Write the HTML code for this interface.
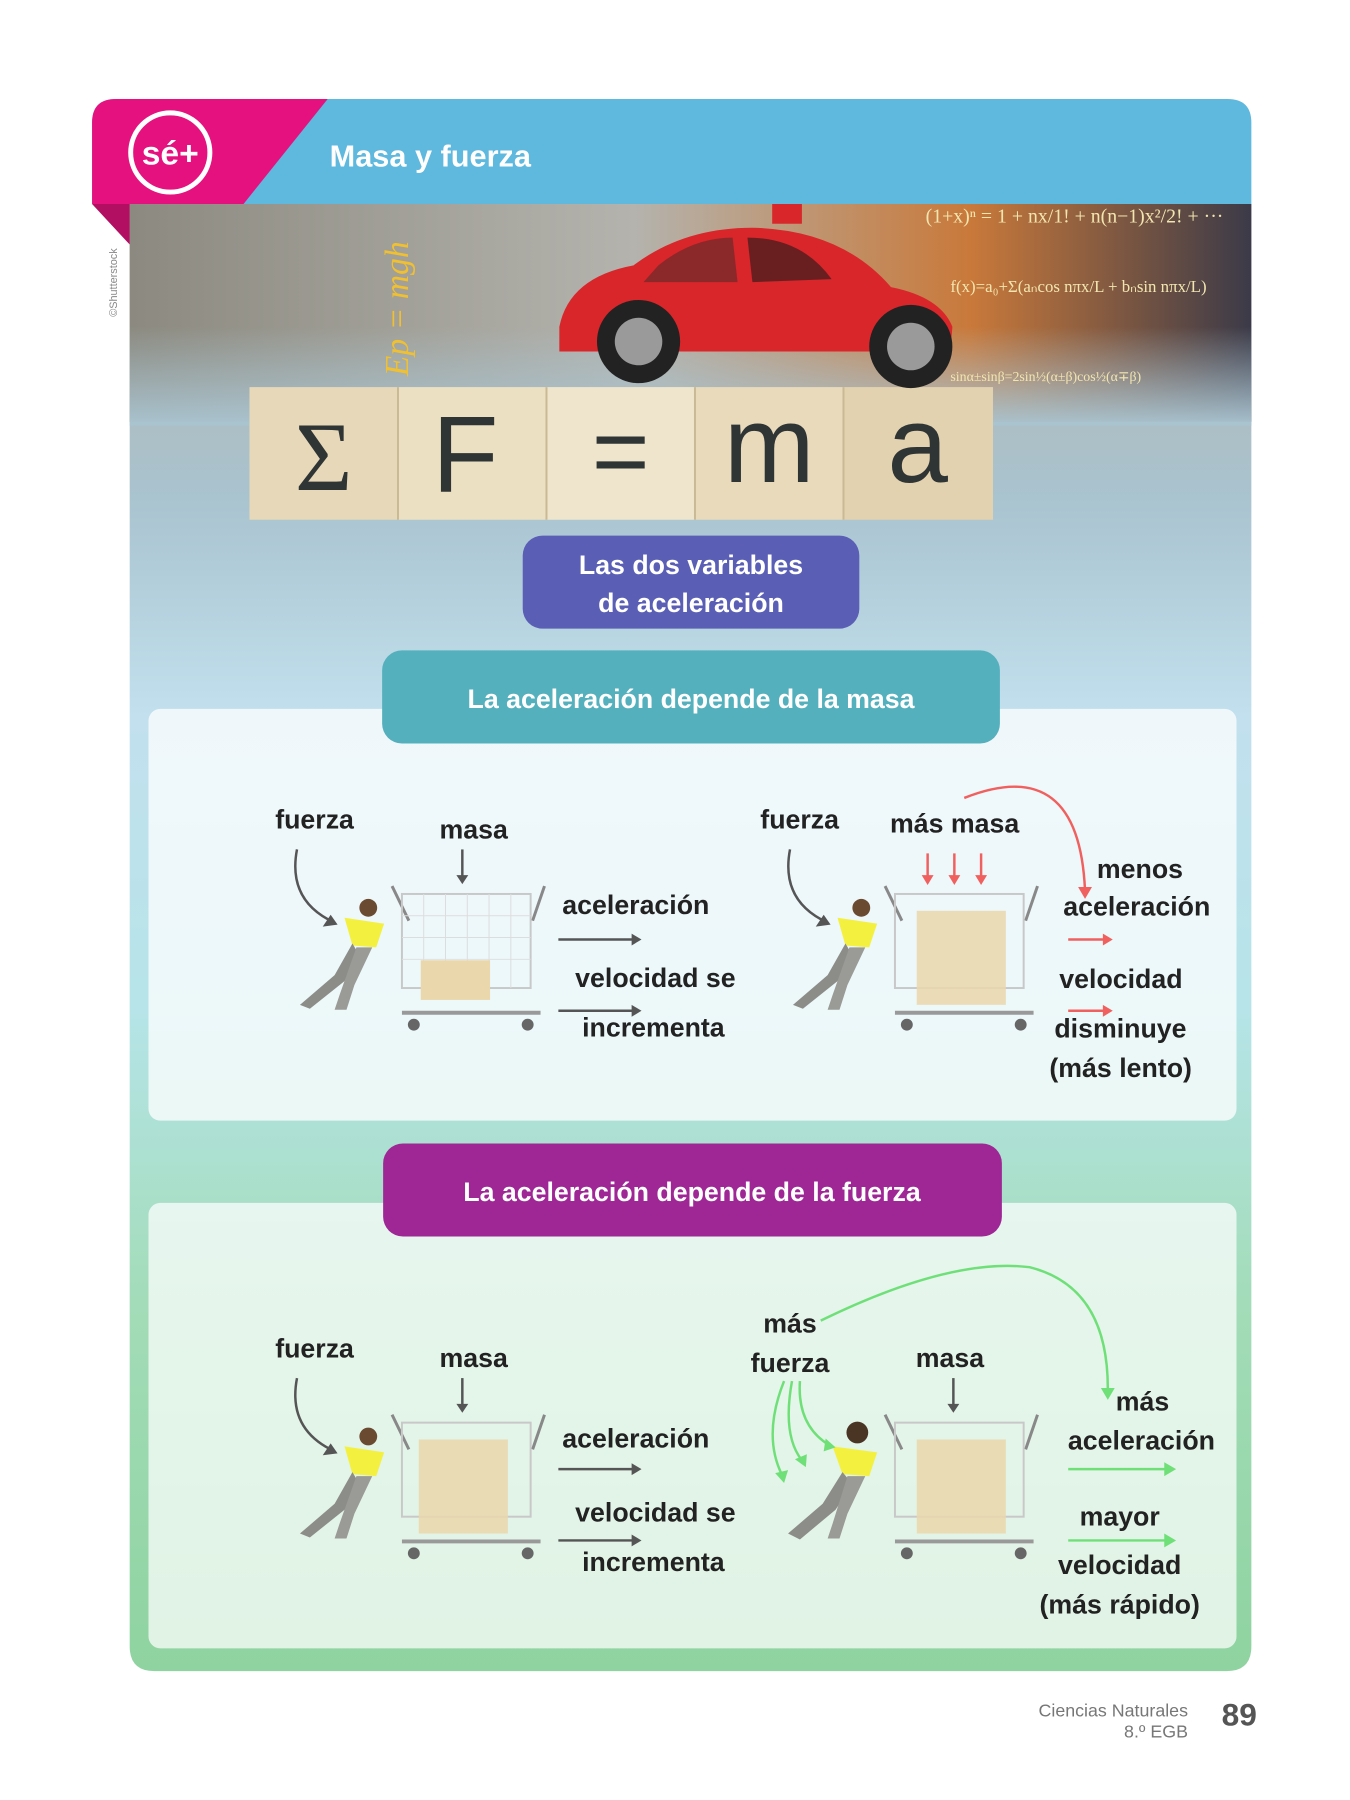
<!DOCTYPE html>
<html><head><meta charset="utf-8"><style>
html,body{margin:0;padding:0;background:#fff;}
body{width:1350px;height:1800px;position:relative;overflow:hidden;font-family:"Liberation Sans",sans-serif;}
svg{position:absolute;left:0;top:0;}
.t{font-family:"Liberation Sans",sans-serif;font-size:27px;fill:#222;font-weight:bold;}
.w{font-family:"Liberation Sans",sans-serif;fill:#fff;font-weight:bold;}
</style></head><body>
<svg width="1350" height="1800" viewBox="0 0 1350 1800" xmlns="http://www.w3.org/2000/svg">
<defs>
<linearGradient id="pan" x1="0" y1="0" x2="0" y2="1">
<stop offset="0" stop-color="#b9b2a8"/>
<stop offset="0.2" stop-color="#a9c3cf"/>
<stop offset="0.35" stop-color="#c2e0ee"/>
<stop offset="0.55" stop-color="#b6e4e8"/>
<stop offset="0.75" stop-color="#a2dcb8"/>
<stop offset="1" stop-color="#8fd3a0"/>
</linearGradient>
<linearGradient id="img" x1="0" y1="0" x2="1" y2="0">
<stop offset="0" stop-color="#8c8a80"/>
<stop offset="0.45" stop-color="#b4b3ad"/>
<stop offset="0.75" stop-color="#c9793a"/>
<stop offset="1" stop-color="#3b3a48"/>
</linearGradient>
<linearGradient id="imgv" x1="0" y1="0" x2="0" y2="1">
<stop offset="0" stop-color="#fff" stop-opacity="0"/>
<stop offset="0.55" stop-color="#fff" stop-opacity="0"/>
<stop offset="1" stop-color="#fff" stop-opacity="1"/>
</linearGradient>
<mask id="m"><rect x="0" y="206" width="1350" height="320" fill="url(#imgv)"/></mask>
<linearGradient id="fade" x1="0" y1="0" x2="0" y2="1">
<stop offset="0" stop-color="#a9c3cf" stop-opacity="0"/>
<stop offset="1" stop-color="#a9c3cf" stop-opacity="1"/>
</linearGradient>
</defs>
<g transform="scale(0.99)">
<path d="M131 206 H1264 V1663 Q1264 1688 1239 1688 H156 Q131 1688 131 1663 Z" fill="url(#pan)"/>
<rect x="131" y="206" width="1133" height="220" fill="url(#img)"/>
<rect x="131" y="330" width="1133" height="100" fill="url(#fade)"/>
<!-- equation blocks -->
<g>
<rect x="252" y="391" width="150" height="134" fill="#e6d8b8"/>
<rect x="402" y="391" width="150" height="134" fill="#ece0c2"/>
<rect x="552" y="391" width="150" height="134" fill="#efe5cc"/>
<rect x="702" y="391" width="150" height="134" fill="#e8dabb"/>
<rect x="852" y="391" width="151" height="134" fill="#e3d2b0"/>
<g stroke="#c9b994" stroke-width="2"><line x1="402" y1="391" x2="402" y2="525"/><line x1="552" y1="391" x2="552" y2="525"/><line x1="702" y1="391" x2="702" y2="525"/><line x1="852" y1="391" x2="852" y2="525"/></g>
<text x="327" y="495" font-size="100" text-anchor="middle" fill="#2f3434" font-family="Liberation Serif">Σ</text>
<text x="470" y="497" font-size="110" text-anchor="middle" fill="#2f3434">F</text>
<text x="627" y="490" font-size="100" text-anchor="middle" fill="#2f3434">=</text>
<text x="777" y="487" font-size="110" text-anchor="middle" fill="#2f3434">m</text>
<text x="927" y="487" font-size="110" text-anchor="middle" fill="#2f3434">a</text>
</g>
<!-- car -->
<g>
<path d="M565 330 Q575 280 640 268 Q690 230 760 230 Q850 232 900 290 Q950 300 962 330 L960 355 L565 355 Z" fill="#d8262a"/>
<path d="M665 268 Q700 240 740 240 L745 285 L650 285 Z" fill="#6b2a2a" opacity="0.7"/>
<path d="M755 240 Q810 240 840 282 L760 285 Z" fill="#3b1b1c" opacity="0.7"/>
<circle cx="645" cy="345" r="42" fill="#222"/><circle cx="645" cy="345" r="24" fill="#9a9a9a"/>
<circle cx="920" cy="350" r="42" fill="#222"/><circle cx="920" cy="350" r="24" fill="#9a9a9a"/>
<rect x="780" y="206" width="30" height="20" fill="#d8262a"/>
</g>
<text x="412" y="380" font-size="34" fill="#f0c030" font-style="italic" font-family="Liberation Serif" transform="rotate(-90 412 380)">Ep = mgh</text>
<text x="935" y="225" font-size="20" fill="#f2e6b0" font-family="Liberation Serif">(1+x)ⁿ = 1 + nx/1! + n(n−1)x²/2! + ···</text>
<text x="960" y="295" font-size="17" fill="#f2e6b0" font-family="Liberation Serif">f(x)=a₀+Σ(aₙcos nπx/L + bₙsin nπx/L)</text>
<text x="960" y="385" font-size="14" fill="#f2e6b0" font-family="Liberation Serif">sinα±sinβ=2sin½(α±β)cos½(α∓β)</text>
<text x="118" y="320" font-size="11" fill="#888" transform="rotate(-90 118 320)">©Shutterstock</text>
<!-- header -->
<path d="M93 206 V124 Q93 100 117 100 H1240 Q1264 100 1264 124 V206 Z" fill="#5fb8de"/>
<path d="M93 206 V124 Q93 100 117 100 H331 L246 206 Z" fill="#e5117f"/>
<path d="M93 206 H131 V247 Z" fill="#b20e62"/>
<circle cx="172" cy="154" r="40" fill="none" stroke="#fff" stroke-width="5"/>
<text x="172" y="166" text-anchor="middle" class="w" font-size="34">sé+</text>
<text x="333" y="168" class="w" font-size="31" font-weight="normal">Masa y fuerza</text>
<!-- title boxes -->
<rect x="528" y="541" width="340" height="94" rx="20" fill="#5a5fb5"/>
<text x="698" y="580" text-anchor="middle" class="w" font-size="27">Las dos variables</text>
<text x="698" y="618" text-anchor="middle" class="w" font-size="27">de aceleración</text>
<!-- inner panels -->
<rect x="150" y="716" width="1099" height="416" rx="12" fill="#fff" opacity="0.75"/>
<rect x="150" y="1215" width="1099" height="450" rx="12" fill="#fff" opacity="0.72"/>
<rect x="386" y="657" width="624" height="94" rx="20" fill="#54b0bc"/>
<text x="698" y="715" text-anchor="middle" class="w" font-size="27">La aceleración depende de la masa</text>
<rect x="387" y="1155" width="625" height="94" rx="20" fill="#9e2795"/>
<text x="699" y="1213" text-anchor="middle" class="w" font-size="27">La aceleración depende de la fuerza</text>

<!-- figure groups -->
<g transform="translate(288,895)">
<g fill="none" stroke="#888" stroke-width="3"><line x1="108" y1="0" x2="125" y2="35"/><line x1="262" y1="0" x2="250" y2="35"/></g>
<rect x="118" y="8" width="130" height="95" fill="none" stroke="#c8c8c8" stroke-width="2"/>
<g stroke="#ddd" stroke-width="1"><line x1="140" y1="8" x2="140" y2="103"/><line x1="162" y1="8" x2="162" y2="103"/><line x1="184" y1="8" x2="184" y2="103"/><line x1="206" y1="8" x2="206" y2="103"/><line x1="228" y1="8" x2="228" y2="103"/><line x1="118" y1="30" x2="248" y2="30"/><line x1="118" y1="52" x2="248" y2="52"/><line x1="118" y1="74" x2="248" y2="74"/></g>
<line x1="118" y1="128" x2="258" y2="128" stroke="#999" stroke-width="4"/>
<circle cx="130" cy="140" r="6" fill="#666"/><circle cx="245" cy="140" r="6" fill="#666"/>
<path d="M60 32 L100 38 L92 62 L68 60 Z" fill="#f4f040"/>
<circle cx="84" cy="22" r="9" fill="#6a4a30"/>
<path d="M68 58 L50 90 L15 120 L25 124 L60 96 L75 70 Z" fill="#8c8c88"/>
<path d="M72 62 L55 110 L50 125 L62 125 L70 100 L88 62 Z" fill="#9a9a96"/>
</g>
<g transform="translate(786,895)">
<g fill="none" stroke="#888" stroke-width="3"><line x1="108" y1="0" x2="125" y2="35"/><line x1="262" y1="0" x2="250" y2="35"/></g>
<rect x="118" y="8" width="130" height="95" fill="none" stroke="#c8c8c8" stroke-width="2"/>
<line x1="118" y1="128" x2="258" y2="128" stroke="#999" stroke-width="4"/>
<circle cx="130" cy="140" r="6" fill="#666"/><circle cx="245" cy="140" r="6" fill="#666"/>
<path d="M60 32 L100 38 L92 62 L68 60 Z" fill="#f4f040"/>
<circle cx="84" cy="22" r="9" fill="#6a4a30"/>
<path d="M68 58 L50 90 L15 120 L25 124 L60 96 L75 70 Z" fill="#8c8c88"/>
<path d="M72 62 L55 110 L50 125 L62 125 L70 100 L88 62 Z" fill="#9a9a96"/>
<rect x="140" y="25" width="90" height="95" fill="#ead7ab" opacity="0.85"/>
</g>
<g transform="translate(288,1429)">
<g fill="none" stroke="#888" stroke-width="3"><line x1="108" y1="0" x2="125" y2="35"/><line x1="262" y1="0" x2="250" y2="35"/></g>
<rect x="118" y="8" width="130" height="95" fill="none" stroke="#c8c8c8" stroke-width="2"/>
<line x1="118" y1="128" x2="258" y2="128" stroke="#999" stroke-width="4"/>
<circle cx="130" cy="140" r="6" fill="#666"/><circle cx="245" cy="140" r="6" fill="#666"/>
<path d="M60 32 L100 38 L92 62 L68 60 Z" fill="#f4f040"/>
<circle cx="84" cy="22" r="9" fill="#6a4a30"/>
<path d="M68 58 L50 90 L15 120 L25 124 L60 96 L75 70 Z" fill="#8c8c88"/>
<path d="M72 62 L55 110 L50 125 L62 125 L70 100 L88 62 Z" fill="#9a9a96"/>
<rect x="135" y="25" width="90" height="95" fill="#ead7ab" opacity="0.85"/>
</g>
<g transform="translate(786,1429)">
<g fill="none" stroke="#888" stroke-width="3"><line x1="108" y1="0" x2="125" y2="35"/><line x1="262" y1="0" x2="250" y2="35"/></g>
<rect x="118" y="8" width="130" height="95" fill="none" stroke="#c8c8c8" stroke-width="2"/>
<line x1="118" y1="128" x2="258" y2="128" stroke="#999" stroke-width="4"/>
<circle cx="130" cy="140" r="6" fill="#666"/><circle cx="245" cy="140" r="6" fill="#666"/>
<path d="M55 32 L100 38 L92 62 L65 60 Z" fill="#f4f040"/>
<circle cx="80" cy="18" r="11" fill="#4a3424"/>
<path d="M65 58 L45 90 L10 120 L22 126 L58 96 L75 70 Z" fill="#8c8c88"/>
<path d="M70 62 L55 110 L50 125 L62 125 L70 100 L88 62 Z" fill="#9a9a96"/>
<rect x="140" y="25" width="90" height="95" fill="#ead7ab" opacity="0.85"/>
</g>
<rect x="425" y="970" width="70" height="40" fill="#ead7ab"/>

<!-- dark arrows -->
<g stroke="#555" stroke-width="2.5" fill="none">
<path d="M300 858 Q290 910 338 932"/><path d="M467 858 V888"/>
<path d="M564 949 H642"/><path d="M564 1021 H642"/>
<path d="M798 858 Q788 910 836 932"/>
<path d="M300 1392 Q290 1444 338 1466"/><path d="M467 1392 V1422"/>
<path d="M564 1484 H642"/><path d="M564 1556 H642"/>
<path d="M963 1392 V1422"/>
</g>
<g fill="#555">
<path d="M341 934 L326 936 L334 924 Z"/><path d="M461 884 L467 893 L473 884 Z"/>
<path d="M638 943 L648 949 L638 955 Z"/><path d="M638 1015 L648 1021 L638 1027 Z"/>
<path d="M839 934 L824 936 L832 924 Z"/>
<path d="M341 1468 L326 1470 L334 1458 Z"/><path d="M461 1418 L467 1427 L473 1418 Z"/>
<path d="M638 1478 L648 1484 L638 1490 Z"/><path d="M638 1550 L648 1556 L638 1562 Z"/>
<path d="M957 1418 L963 1427 L969 1418 Z"/>
</g>
<!-- red arrows -->
<g stroke="#f0605e" stroke-width="2.5" fill="none">
<path d="M937 862 V888"/><path d="M964 862 V888"/><path d="M991 862 V888"/>
<path d="M974 806 Q1090 760 1096 900"/>
<path d="M1079 949 H1118"/><path d="M1079 1021 H1118"/>
</g>
<g fill="#f0605e">
<path d="M931 884 L937 894 L943 884 Z"/><path d="M958 884 L964 894 L970 884 Z"/><path d="M985 884 L991 894 L997 884 Z"/>
<path d="M1089 896 L1096 908 L1103 896 Z"/>
<path d="M1114 943 L1124 949 L1114 955 Z"/><path d="M1114 1015 L1124 1021 L1114 1027 Z"/>
</g>
<!-- green arrows -->
<g stroke="#6fe078" stroke-width="2.5" fill="none">
<path d="M829 1334 Q960 1270 1040 1280 Q1120 1300 1119 1405"/>
<path d="M1079 1484 H1180"/><path d="M1079 1556 H1180"/>
<path d="M792 1395 Q770 1450 790 1490"/><path d="M800 1395 Q790 1450 810 1475"/><path d="M808 1395 Q805 1440 838 1460"/>
</g>
<g fill="#6fe078">
<path d="M1112 1402 L1119 1414 L1126 1402 Z"/>
<path d="M1176 1477 L1188 1484 L1176 1491 Z"/><path d="M1176 1549 L1188 1556 L1176 1563 Z"/>
<path d="M783 1488 L792 1498 L796 1485 Z"/><path d="M803 1474 L814 1482 L815 1469 Z"/><path d="M834 1453 L844 1462 L832 1466 Z"/>
</g>

<!-- labels -->
<g class="t">
<text x="278" y="837">fuerza</text>
<text x="444" y="847">masa</text>
<text x="568" y="923">aceleración</text>
<text x="581" y="997">velocidad se</text>
<text x="588" y="1047">incrementa</text>
<text x="768" y="837">fuerza</text>
<text x="899" y="841">más masa</text>
<text x="1108" y="887">menos</text>
<text x="1074" y="925">aceleración</text>
<text x="1070" y="998">velocidad</text>
<text x="1065" y="1048">disminuye</text>
<text x="1060" y="1088">(más lento)</text>

<text x="278" y="1371">fuerza</text>
<text x="444" y="1381">masa</text>
<text x="568" y="1462">aceleración</text>
<text x="581" y="1537">velocidad se</text>
<text x="588" y="1587">incrementa</text>
<text x="798" y="1346" text-anchor="middle">más</text>
<text x="798" y="1386" text-anchor="middle">fuerza</text>
<text x="925" y="1381">masa</text>
<text x="1154" y="1425" text-anchor="middle">más</text>
<text x="1153" y="1464" text-anchor="middle">aceleración</text>
<text x="1131" y="1541" text-anchor="middle">mayor</text>
<text x="1131" y="1590" text-anchor="middle">velocidad</text>
<text x="1131" y="1630" text-anchor="middle">(más rápido)</text>
</g>
<!-- footer -->
<text x="1200" y="1734" text-anchor="end" font-size="18" fill="#777">Ciencias Naturales</text>
<text x="1200" y="1755" text-anchor="end" font-size="18" fill="#777">8.º EGB</text>
<text x="1234" y="1743" font-size="32" font-weight="bold" fill="#555">89</text>
</g>
</svg>
</body></html>
